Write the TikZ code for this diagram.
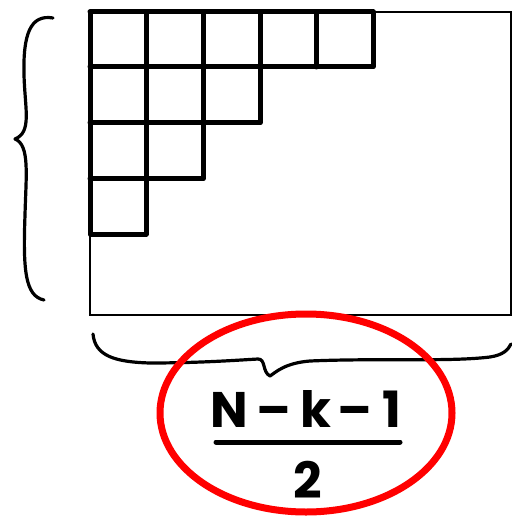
\documentclass[tikz,border=0pt]{standalone}
\usepackage{fontspec}
\usetikzlibrary{shapes.geometric}
\newfontfamily\hand{Poppins}
\begin{document}
\begin{tikzpicture}[x=1pt,y=-1pt,
  thin box/.style={line width=2pt},
  gridline/.style={line width=5pt,line cap=round,line join=round},
  brace/.style={line width=3.2pt,line cap=round,line join=round},
  ring/.style={draw=red,line width=7pt,ellipse,inner sep=0pt,minimum width=292pt,minimum height=198pt},
  hw/.style={font=\hand\fontsize{50}{50}\selectfont\bfseries,inner sep=0pt}]
\useasboundingbox (0,0) rectangle (511,518);
% outer rectangle
\draw[thin box] (90,12) rectangle (511,315);
% staircase grid
\draw[gridline] (90,12) -- (373,12) -- (373,67) -- (90,67);
\draw[gridline] (90,12) -- (90,234) -- (146,234) -- (146,12);
\draw[gridline] (203,12) -- (203,179) -- (90,179);
\draw[gridline] (260,12) -- (260,123) -- (90,123);
\draw[gridline] (316,12) -- (316,67);
% left brace
\draw[brace] (53,18) .. controls (30,14) and (23,35) .. (24,75)
  .. controls (25,110) and (32,132) .. (15,139)
  .. controls (30,145) and (26,175) .. (25,215)
  .. controls (23,270) and (25,296) .. (44,300);
% bottom brace
\draw[brace] (93,334) .. controls (95,356) and (115,362) .. (150,363)
  .. controls (200,363) and (240,360) .. (258,359)
  .. controls (266,359) and (262,372) .. (270,376)
  .. controls (276,372) and (285,363) .. (310,361)
  .. controls (380,358) and (450,362) .. (490,357)
  .. controls (503,355) and (508,350) .. (511,344);
% ellipse
\node[ring] (e) at (306,413) {};
% fraction
\node[hw,anchor=base] (num) at (306,427) {N\hspace{8pt}–\hspace{10pt}k\hspace{6pt}–\hspace{10pt}1};
\node[hw,anchor=base] (den) at (308,498) {2};
\draw[line width=5pt,line cap=round] (216,442) -- (400,442);
\end{tikzpicture}
\end{document}
